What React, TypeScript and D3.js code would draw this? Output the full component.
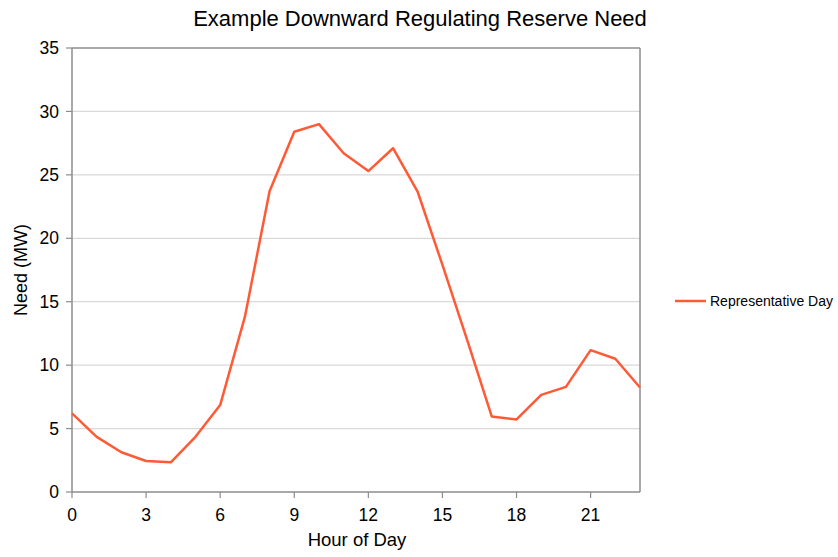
import React from 'react';
import * as d3 from 'd3';

const hours = d3.range(0, 24);
const need = [6.2, 4.35, 3.13, 2.44, 2.34, 4.35, 6.85, 13.8, 23.7, 28.4, 29.0, 26.7, 25.3, 27.1, 23.65, 17.9, 12.0, 5.95, 5.72, 7.66, 8.29, 11.18, 10.5, 8.24];
const yTicks = [0, 5, 10, 15, 20, 25, 30, 35];
const xTicks = [0, 3, 6, 9, 12, 15, 18, 21];
const title = 'Example Downward Regulating Reserve Need';
const seriesName = 'Representative Day';

const W = 838;
const H = 557;
const left = 72;
const right = 640;
const top = 48;
const bottom = 492;
const font = '"Liberation Sans", Arial, sans-serif';
const lineColor = '#ff5a36';
const axisColor = '#8c8c8c';
const gridColor = '#d9d9d9';

export default function App() {
  const x = d3.scaleLinear().domain([0, 23]).range([left, right]);
  const y = d3.scaleLinear().domain([0, 35]).range([bottom, top]);

  const line = d3.line<number>()
    .x((_, i) => x(hours[i]))
    .y(d => y(d));

  return (
    <svg width={W} height={H} style={{ position: 'absolute', left: 0, top: 0, background: '#fff' }} fontFamily={font}>
      <text x={420} y={26} textAnchor="middle" fontSize={22} fill="#000">{title}</text>

      {/* grid */}
      {yTicks.slice(1).map(t => (
        <line key={t} x1={left} x2={right} y1={y(t)} y2={y(t)} stroke={t === 35 ? axisColor : gridColor} strokeWidth={t === 35 ? 1.5 : 1.2} />
      ))}
      <line x1={right} x2={right} y1={top} y2={bottom} stroke={axisColor} strokeWidth={1.5} />

      {/* y axis */}
      <line x1={left} x2={left} y1={top} y2={bottom} stroke={axisColor} strokeWidth={1.5} />
      {yTicks.map(t => (
        <g key={t}>
          <line x1={left - 6} x2={left} y1={y(t)} y2={y(t)} stroke={axisColor} strokeWidth={1.2} />
          <text x={left - 13} y={y(t)} dy="0.35em" textAnchor="end" fontSize={17.5} fill="#000">{t}</text>
        </g>
      ))}

      {/* x axis */}
      <line x1={left} x2={right} y1={bottom} y2={bottom} stroke={axisColor} strokeWidth={1.5} />
      {xTicks.map(t => (
        <g key={t}>
          <line x1={x(t)} x2={x(t)} y1={bottom} y2={bottom + 6} stroke={axisColor} strokeWidth={1.2} />
          <text x={x(t)} y={bottom + 29} textAnchor="middle" fontSize={17.5} fill="#000">{t}</text>
        </g>
      ))}

      <text x={357} y={546} textAnchor="middle" fontSize={18.5} fill="#000">Hour of Day</text>
      <text transform="translate(27,270) rotate(-90)" textAnchor="middle" fontSize={18} fill="#000">Need (MW)</text>

      <path d={line(need) || ''} fill="none" stroke={lineColor} strokeWidth={2.5} strokeLinejoin="round" />

      {/* legend */}
      <line x1={675} x2={706} y1={301} y2={301} stroke={lineColor} strokeWidth={2.5} />
      <text x={710} y={301} dy="0.35em" fontSize={14} fill="#000">{seriesName}</text>
    </svg>
  );
}
